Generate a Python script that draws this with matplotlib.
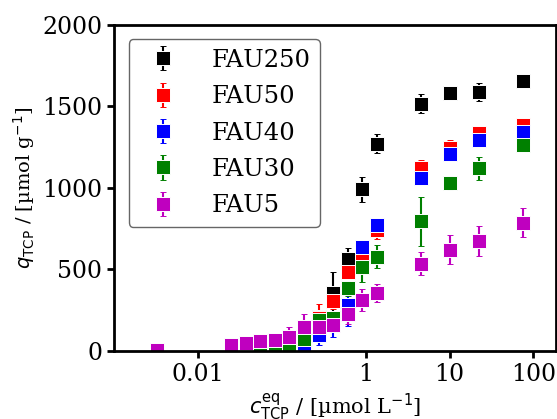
import numpy as np
import matplotlib
matplotlib.use("Agg")
import matplotlib.pyplot as plt
from matplotlib.ticker import FixedLocator, FixedFormatter, NullLocator

plt.rcParams["font.family"] = "DejaVu Serif"
plt.rcParams["mathtext.fontset"] = "dejavusans"

# equilibrium concentration (umol/L), loading (umol/g) and its uncertainty
c_fau250 = [0.055, 0.082, 0.122, 0.184, 0.275, 0.41, 0.616, 0.916, 1.37, 4.55, 10.1, 22.6, 76]
q_fau250 = [2, 5, 15, 50, 210, 355, 562, 990, 1270, 1515, 1580, 1585, 1655]
e_fau250 = [5, 8, 12, 20, 30, 130, 70, 75, 60, 60, 15, 55, 15]

c_fau50 = [0.055, 0.082, 0.122, 0.184, 0.275, 0.41, 0.616, 0.916, 1.37, 4.55, 10.1, 22.6, 76]
q_fau50 = [3, 5, 15, 45, 200, 305, 486, 585, 742, 1118, 1245, 1336, 1385]
e_fau50 = [5, 8, 12, 20, 90, 45, 40, 40, 58, 55, 50, 15, 15]

c_fau40 = [0.055, 0.082, 0.122, 0.184, 0.275, 0.41, 0.616, 0.916, 1.37, 4.55, 10.1, 22.6, 76]
q_fau40 = [3, 8, 20, 37, 100, 165, 280, 636, 771, 1057, 1205, 1292, 1340]
e_fau40 = [5, 8, 15, 20, 65, 80, 125, 30, 25, 20, 20, 20, 20]

c_fau30 = [0.055, 0.082, 0.122, 0.184, 0.275, 0.41, 0.616, 0.916, 1.37, 4.55, 10.1, 22.6, 76]
q_fau30 = [4, 10, 25, 76, 190, 202, 384, 515, 578, 795, 1030, 1118, 1262]
e_fau30 = [5, 8, 15, 30, 30, 30, 45, 95, 72, 150, 45, 72, 20]

c_fau5 = [0.0033, 0.025, 0.037, 0.055, 0.082, 0.122, 0.184, 0.275, 0.41, 0.616, 0.916, 1.37,
          4.55, 10.1, 22.6, 76]
q_fau5 = [8, 34, 49, 62, 68, 85, 145, 150, 160, 225, 312, 354, 535, 621, 674, 786]
e_fau5 = [5, 10, 10, 10, 15, 60, 80, 40, 40, 60, 68, 55, 72, 90, 92, 87]

series = [
    ("FAU250", c_fau250, q_fau250, e_fau250, "k"),
    ("FAU50", c_fau50, q_fau50, e_fau50, "r"),
    ("FAU40", c_fau40, q_fau40, e_fau40, "b"),
    ("FAU30", c_fau30, q_fau30, e_fau30, "g"),
    ("FAU5", c_fau5, q_fau5, e_fau5, "m"),
]

fig = plt.figure(figsize=(5.57, 4.19), dpi=100)
ax = fig.add_axes([114 / 557, 1 - 351 / 419, (556 - 114) / 557, (351 - 24.5) / 419])

for name, c, q, e, col in series:
    ax.errorbar(c, q, yerr=e, fmt="s", color=col, ms=9.5, mec="w", mew=0.7,
                elinewidth=1.5, capsize=2.5, capthick=1.5, label=name)

ax.set_xscale("log")
ax.set_xlim(1e-3, 186)
ax.set_ylim(0, 2000)
ax.set_yticks([0, 500, 1000, 1500, 2000])
ax.xaxis.set_major_locator(FixedLocator([0.01, 1, 10, 100]))
ax.xaxis.set_major_formatter(FixedFormatter(["0.01", "1", "10", "100"]))
ax.xaxis.set_minor_locator(NullLocator())

for sp in ax.spines.values():
    sp.set_linewidth(2)
ax.tick_params(which="major", length=5, width=2, labelsize=17)

ax.set_xlabel(r"$c_\mathrm{TCP}^\mathrm{eq}$ / [µmol L$^{-1}$]", fontsize=15)
ax.set_ylabel(r"$q_\mathrm{TCP}$ / [µmol g$^{-1}$]", fontsize=14)

leg = ax.legend(loc="upper left", fontsize=17.5, borderaxespad=0.6,
                labelspacing=0.55, handletextpad=1.0, edgecolor="0.25",
                fancybox=True)
leg.get_frame().set_linewidth(1.0)

fig.savefig("out.png", dpi=100)
